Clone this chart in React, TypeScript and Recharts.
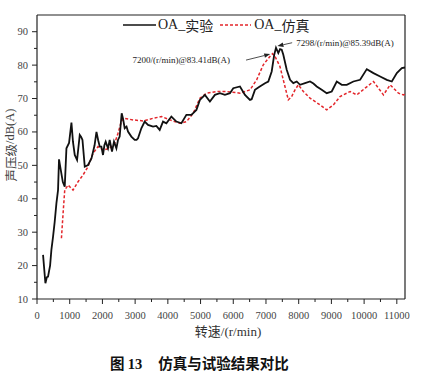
import React from 'react';
import { LineChart, Line, XAxis, YAxis, ReferenceLine } from 'recharts';

const expRpm = [185,257,300,337,400,440,490,540,594,643,673,720,790,848,900,980,1053,1100,1154,1225,1307,1350,1390,1460,1560,1665,1760,1818,1870,1919,1968,2018,2060,2100,2171,2222,2293,2354,2427,2476,2527,2589,2630,2681,2737,2782,2884,2987,3043,3088,3190,3292,3394,3547,3649,3751,3853,3955,4108,4261,4414,4567,4720,4873,4980,5133,5286,5439,5592,5745,5898,6000,6205,6358,6510,6562,6663,6800,6970,7071,7175,7250,7306,7377,7430,7481,7530,7634,7736,7836,7940,8041,8194,8347,8450,8551,8704,8857,9010,9164,9317,9470,9672,9878,10082,10286,10490,10694,10847,11000,11153,11250];
const expDb = [23.2,14.7,16.5,16.7,20,24.7,28.6,33,38.7,42.6,51.8,49,45,43.6,55.1,56.7,62.8,57,53.1,51.6,59.1,58.5,57.6,49.6,50.1,52.1,56,60,57.5,55.6,55.6,53.1,56,57.1,55.1,57.6,54.1,57.1,55.1,57.6,58.6,65.6,64,61.1,61.6,60.1,58.6,57.6,57.6,58.1,61.1,63.1,62.1,61.6,61.8,60.6,63.1,62.6,64.6,63.1,62.6,65.1,65.1,66.6,69.6,71.1,69.1,71.1,71.6,71.1,71.6,73.1,73.6,71.1,69.6,69.8,72.6,73.5,74.6,75.1,78.1,83,85.2,83.6,84.8,84.6,83.1,78.6,75.6,74.6,75.1,74.1,74.6,75.1,74.5,73.6,72.6,71.6,72.1,75.1,74.1,74.1,75.1,75.6,78.8,77.6,76.6,75.6,75.1,77.6,79.1,79.3];

const simRpm = [747,800,848,950,1102,1255,1407,1560,1713,1866,2018,2222,2375,2476,2578,2650,2938,3245,3552,3807,4062,4368,4572,4776,4980,5184,5490,5796,6205,6511,6715,6918,7121,7200,7280,7427,7580,7683,7785,7887,7990,8143,8347,8653,8857,9061,9266,9572,9776,10031,10286,10439,10592,10796,10898,11051,11204,11250];
const simDb = [28.2,36,42.6,44.1,42.6,45.1,47.1,49.6,53.6,55.6,54.6,55.1,56.6,59.6,63.1,64.1,63.6,63.3,64.1,64.6,63.6,62.6,63.1,65.6,70.1,71.6,72.1,72.1,71.6,72.6,75.6,80.1,82.6,83.41,82.5,79.6,73.6,69.6,70.6,72.6,74.1,72.1,70.1,68.1,66.6,68.1,70.6,72.1,71.1,73.1,75.1,73.1,71.1,74.1,73.1,71.6,71.1,71.3];

const xTicks = [0,500,1000,1500,2000,2500,3000,3500,4000,4500,5000,5500,6000,6500,7000,7500,8000,8500,9000,9500,10000,10500,11000];
const yTicks = [10,15,20,25,30,35,40,45,50,55,60,65,70,75,80,85,90];
const X_MAX = 11250;
const Y_MIN = 10;
const Y_MAX = 95;

const ann1 = { tailRpm: 6390, tailDb: 81.5, headRpm: 7130, headDb: 83.3, text: '7200/(r/min)@83.41dB(A)' };
const ann2 = { tailRpm: 7800, tailDb: 86.7, headRpm: 7350, headDb: 85.7, text: '7298/(r/min)@85.39dB(A)' };

const expData = expRpm.map((r, i) => ({ rpm: r, db: expDb[i] }));
const simData = simRpm.map((r, i) => ({ rpm: r, db: simDb[i] }));

const SERIF = '"Liberation Serif", "Times New Roman", serif';
const CJK = '"Noto Sans CJK SC", sans-serif';

const YTick = (props: any) => {
  const { x, y, payload } = props;
  const major = payload.value % 10 === 0;
  return (
    <g>
      <line x1={x - (major ? 5 : 3)} x2={x} y1={y} y2={y} stroke="#222" strokeWidth={1} />
      {major && (
        <text x={x - 9} y={y} textAnchor="end" dominantBaseline="central" fontSize={10.5} fontFamily={SERIF} fill="#444">
          {payload.value}
        </text>
      )}
    </g>
  );
};

const XTick = (props: any) => {
  const { x, y, payload } = props;
  const major = payload.value % 1000 === 0;
  return (
    <g>
      <line x1={x} x2={x} y1={y} y2={y + (major ? 5 : 3)} stroke="#222" strokeWidth={1} />
      {major && (
        <text x={x} y={y + 20} textAnchor="middle" fontSize={10.5} fontFamily={SERIF} fill="#444">
          {payload.value}
        </text>
      )}
    </g>
  );
};

const makeArrow = (text: string, side: 'left' | 'right') => (p: any) => {
  const { x1, y1, x2, y2 } = p;
  const ang = Math.atan2(y2 - y1, x2 - x1);
  const L = 6, W = 2.2;
  const bx = x2 - L * Math.cos(ang), by = y2 - L * Math.sin(ang);
  const px = -Math.sin(ang) * W, py = Math.cos(ang) * W;
  return (
    <g>
      <line x1={x1} y1={y1} x2={bx} y2={by} stroke="#222" strokeWidth={0.8} />
      <polygon points={`${x2},${y2} ${bx + px},${by + py} ${bx - px},${by - py}`} fill="#222" />
      <text
        x={side === 'left' ? x1 - 16 : x1 + 4}
        y={y1}
        textAnchor={side === 'left' ? 'end' : 'start'}
        dominantBaseline="central"
        fontSize={9}
        fontFamily={SERIF}
        fill="#222"
      >
        {text}
      </text>
    </g>
  );
};

const XLabel = (props: any) => {
  const vb = props.viewBox || {};
  return (
    <text x={vb.x + vb.width / 2 + 7} y={vb.y + 37} textAnchor="middle" fontSize={13} fill="#333">
      <tspan fontFamily={CJK}>转速</tspan>
      <tspan fontFamily={SERIF}>/(r/min)</tspan>
    </text>
  );
};

const YLabel = (props: any) => {
  const vb = props.viewBox || {};
  const cx = 10;
  const cy = vb.y + vb.height / 2 - 12;
  return (
    <text x={cx} y={cy} transform={`rotate(-90 ${cx} ${cy})`} textAnchor="middle" dominantBaseline="central" fontSize={12.5} fill="#444">
      <tspan fontFamily={CJK}>声压级</tspan>
      <tspan fontFamily={SERIF}>/dB(A)</tspan>
    </text>
  );
};

export default function App() {
  return (
    <div style={{ position: 'absolute', left: 0, top: 0, width: 422, height: 378, background: '#fff' }}>
      <LineChart width={422} height={378} margin={{ top: 15, right: 17, left: 0, bottom: 0 }}>
        <XAxis
          dataKey="rpm"
          type="number"
          domain={[0, X_MAX]}
          ticks={xTicks}
          interval={0}
          allowDataOverflow
          height={79}
          tickSize={0}
          tickMargin={0}
          tickLine={false}
          tick={<XTick />}
          axisLine={{ stroke: '#222', strokeWidth: 1.2 }}
          label={<XLabel />}
        />
        <YAxis
          dataKey="db"
          type="number"
          domain={[Y_MIN, Y_MAX]}
          ticks={yTicks}
          interval={0}
          allowDataOverflow
          width={37}
          tickSize={0}
          tickMargin={0}
          tickLine={false}
          tick={<YTick />}
          axisLine={{ stroke: '#222', strokeWidth: 1.2 }}
          label={<YLabel />}
        />
        <ReferenceLine y={Y_MAX} stroke="#222" strokeWidth={1.2} />
        <ReferenceLine x={X_MAX} stroke="#222" strokeWidth={1.2} />
        <Line
          data={simData}
          dataKey="db"
          type="linear"
          stroke="#e3262b"
          strokeWidth={1.5}
          strokeDasharray="3 2"
          dot={false}
          isAnimationActive={false}
        />
        <Line
          data={expData}
          dataKey="db"
          type="linear"
          stroke="#111"
          strokeWidth={1.8}
          dot={false}
          isAnimationActive={false}
        />
        <ReferenceLine
          segment={[{ x: ann1.tailRpm, y: ann1.tailDb }, { x: ann1.headRpm, y: ann1.headDb }]}
          shape={makeArrow(ann1.text, 'left')}
        />
        <ReferenceLine
          segment={[{ x: ann2.tailRpm, y: ann2.tailDb }, { x: ann2.headRpm, y: ann2.headDb }]}
          shape={makeArrow(ann2.text, 'right')}
        />
      </LineChart>
      <div style={{ position: 'absolute', left: 123, top: 16, height: 18, display: 'flex', alignItems: 'center', fontSize: 14, color: '#222', whiteSpace: 'nowrap' }}>
        <svg width={33} height={4} style={{ marginRight: 2 }}><line x1={0} x2={33} y1={2} y2={2} stroke="#111" strokeWidth={1.5} /></svg>
        <span style={{ fontFamily: SERIF }}>OA_</span><span style={{ fontFamily: CJK }}>实验</span>
        <svg width={31} height={4} style={{ marginLeft: 7, marginRight: 3 }}><line x1={0} x2={31} y1={2} y2={2} stroke="#e3262b" strokeWidth={1.5} strokeDasharray="3 2" /></svg>
        <span style={{ fontFamily: SERIF }}>OA_</span><span style={{ fontFamily: CJK }}>仿真</span>
      </div>
      <div style={{ position: 'absolute', left: 110, top: 352, fontSize: 14.5, fontWeight: 'bold', color: '#111', whiteSpace: 'nowrap', fontFamily: CJK }}>
        图 <span style={{ fontFamily: SERIF }}>13</span><span style={{ marginLeft: 16 }}>仿真与试验结果对比</span>
      </div>
    </div>
  );
}
